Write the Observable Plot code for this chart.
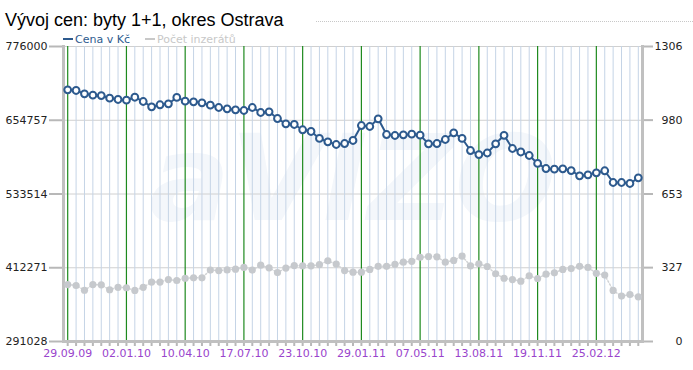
<!DOCTYPE html>
<html><head><meta charset="utf-8">
<script src="https://cdn.jsdelivr.net/npm/d3@7"></script>
<script src="https://cdn.jsdelivr.net/npm/@observablehq/plot@0.6"></script>
<style>
body{margin:0;background:#fff;}
#wrap{position:relative;width:693px;height:370px;overflow:hidden;font-family:"DejaVu Sans",Verdana,sans-serif;}
#title{position:absolute;left:5px;top:11px;font:18px/18px "Liberation Sans",Arial,sans-serif;color:#000;white-space:nowrap;}
#dots{position:absolute;left:316px;right:0;top:21px;border-top:1px dotted #c8c8c8;}
#legend{position:absolute;left:63px;top:34px;font-size:11px;line-height:11px;white-space:nowrap;}
#legend span.sw{display:inline-block;width:10px;height:2px;vertical-align:middle;margin-right:2px;position:relative;top:-1px;}
#legend span.it{margin-right:15px;}
#chart{position:absolute;left:0;top:0;}
</style>
</head><body>
<div id="wrap">
<div id="chart"></div>
<div id="title">Vývoj cen: byty 1+1, okres Ostrava</div>
<div id="dots"></div>
<div id="legend"></div>
</div>
<script>
const priceCZK = [704800, 703700, 698200, 695900, 695400, 691000, 688900, 687700, 692600, 685600,
  676900, 680200, 681800, 692200, 686100, 685100, 683400, 679500, 675700, 673600,
  671900, 670800, 675700, 667500, 668600, 657600, 648900, 647800, 639100, 636300,
  624800, 619300, 614900, 616500, 621500, 646100, 644500, 657100, 631300, 629700,
  630800, 631800, 630200, 616000, 616500, 623100, 634100, 624800, 605000, 598400,
  600900, 616000, 630000, 608300, 602600, 596800, 583700, 575400, 574300, 574900,
  572100, 563400, 565100, 568400, 571700, 552400, 552400, 550800, 560100];
const listings = [252, 248, 227, 252, 251, 229, 240, 238, 226, 240,
  263, 263, 274, 270, 280, 282, 282, 316, 314, 317,
  320, 328, 316, 338, 326, 305, 325, 336, 335, 335,
  340, 357, 343, 314, 307, 307, 319, 333, 333, 342,
  351, 355, 373, 376, 375, 351, 359, 378, 335, 344,
  332, 300, 280, 274, 267, 291, 279, 298, 304, 319,
  323, 333, 328, 302, 294, 226, 201, 208, 198];
const tickLabels = ["29.09.09","02.01.10","10.04.10","17.07.10","23.10.10","29.01.11","07.05.11","13.08.11","19.11.11","25.02.12"];
const leftTicks = [291028, 412271, 533514, 654757, 776000];
const rightTicks = [0, 327, 653, 980, 1306];
const seriesNames = ["Cena v Kč", "Počet inzerátů"];

const blue = "#2d5a8e", gray = "#c6c9cd";
const L0 = leftTicks[0], L1 = leftTicks[leftTicks.length-1], R1 = rightTicks[rightTicks.length-1];
const toLeft = c => L0 + c / R1 * (L1 - L0);
const idx = priceCZK.map((_, i) => i);
const every = 7;
const tickIdx = tickLabels.map((_, i) => i * every);
const rows = idx.map(i => ({i, price: priceCZK[i], count: listings[i], countL: toLeft(listings[i])}));

const chart = Plot.plot({
  width: 693, height: 370,
  marginTop: 46, marginBottom: 29, marginLeft: 63, marginRight: 51,
  style: {fontFamily: "'DejaVu Sans', Verdana, sans-serif", fontSize: "11px", background: "transparent"},
  x: {domain: [-0.5, idx.length - 0.5], axis: null},
  y: {domain: [L0, L1], axis: null},
  marks: [
    Plot.text(["aVIZO"], {frameAnchor: "middle", dy: -12, fontSize: 120, fontWeight: "bold", fontStyle: "italic", fill: "#f4f7fb"}),
    Plot.ruleY(leftTicks, {stroke: "#d0d0d0", strokeWidth: 1}),
    Plot.ruleX(idx.filter(i => i % every !== 0), {stroke: "#c5d4e6", strokeWidth: 1}),
    Plot.ruleX(tickIdx, {stroke: "#1e8a1e", strokeWidth: 1.2}),
    Plot.axisY(leftTicks, {anchor: "left", label: null, tickSize: 14, tickPadding: 2, stroke: "#b8b8b8", strokeWidth: 2, fill: "#222", tickFormat: d => String(d)}),
    Plot.axisY(rightTicks.map(toLeft), {anchor: "right", label: null, tickSize: 10, stroke: "#b8b8b8", strokeWidth: 2, tickFormat: () => ""}),
    Plot.text(rightTicks, {y: toLeft, frameAnchor: "right", text: d => String(d), textAnchor: "end", dx: 40, fill: "#222"}),
    Plot.axisX(idx, {anchor: "bottom", label: null, tickSize: 5, tickPadding: 3, stroke: "#b8b8b8", strokeWidth: 2, fill: "#9944cc",
      tickFormat: i => i % every === 0 ? tickLabels[i / every] : ""}),
    Plot.frame({anchor: "left", stroke: "#c0c0c0", strokeWidth: 3}),
    Plot.frame({anchor: "right", stroke: "#c0c0c0", strokeWidth: 3}),
    Plot.frame({anchor: "bottom", stroke: "#c0c0c0", strokeWidth: 3}),
    Plot.line(rows, {x: "i", y: "countL", stroke: "#d2d4d6", strokeWidth: 1.5, strokeDasharray: "1.5,2"}),
    Plot.dot(rows, {x: "i", y: "countL", r: 3.6, fill: gray, stroke: null}),
    Plot.line(rows, {x: "i", y: "price", stroke: blue, strokeWidth: 2}),
    Plot.dot(rows, {x: "i", y: "price", r: 3.4, fill: "#fff", stroke: blue, strokeWidth: 2})
  ]
});
document.getElementById("chart").appendChild(chart);

const leg = document.getElementById("legend");
[[seriesNames[0], blue], [seriesNames[1], "#c8c8c8"]].forEach(([name, col]) => {
  const it = document.createElement("span");
  it.className = "it";
  it.style.color = col;
  it.innerHTML = `<span class="sw" style="background:${col}"></span>${name}`;
  leg.appendChild(it);
});
</script>
</body></html>
